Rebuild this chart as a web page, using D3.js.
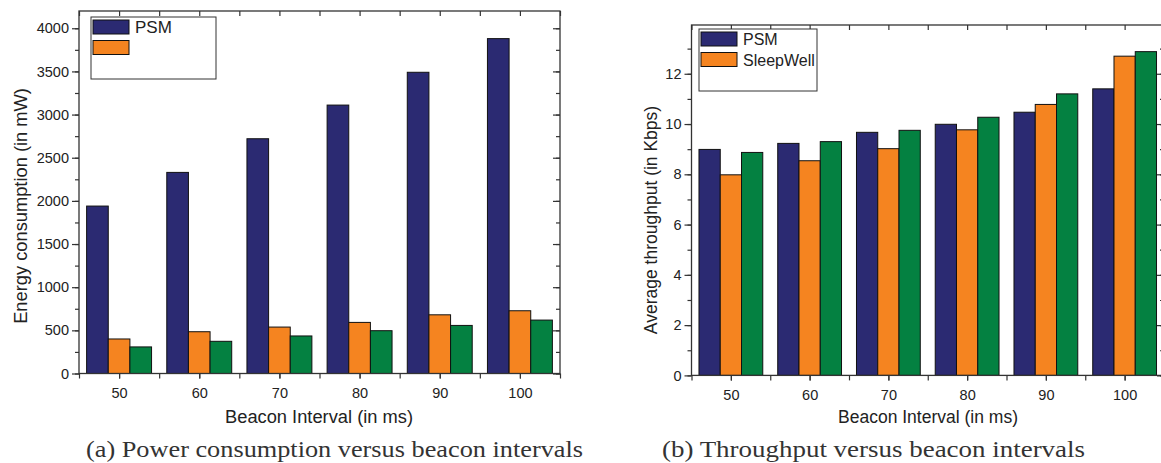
<!DOCTYPE html>
<html>
<head>
<meta charset="utf-8">
<script src="https://cdn.jsdelivr.net/npm/d3@7"></script>
<style>
body { margin: 0; background: #fff; }
text { font-family: "Liberation Sans", Arial, sans-serif; fill: #222; }
.cap { font-family: "Liberation Serif", "DejaVu Serif", serif; fill: #333; }
</style>
</head>
<body>
<svg width="1161" height="463"></svg>
<script>
// beacon intervals (ms)
var intervals = [50, 60, 70, 80, 90, 100];
var seriesNames = ['PSM', 'SleepWell', ''];
var colors = ['#2b2a72', '#f58420', '#048141'];

// (a) energy consumption, mW
var energyPSM = [1940, 2330, 2720, 3110, 3490, 3880];
var energySleepWell = [400, 484, 538, 592, 680, 727];
var energyThird = [308, 373, 435, 496, 557, 619];

// (b) average throughput, Kbps
var tputPSM = [8.99, 9.23, 9.67, 9.99, 10.47, 11.4];
var tputSleepWell = [7.98, 8.54, 9.02, 9.77, 10.78, 12.7];
var tputThird = [8.87, 9.3, 9.75, 10.27, 11.2, 12.88];

var energyTicks = [0, 500, 1000, 1500, 2000, 2500, 3000, 3500, 4000];
var tputTicks = [0, 2, 4, 6, 8, 10, 12];

var svg = d3.select('svg');

function panel(opt) {
	var g = svg.append('g');
	var x = d3.scaleLinear().domain([45, 105]).range([opt.left, opt.right]);
	var y = d3.scaleLinear().domain([0, opt.ymax]).range([opt.bottom, opt.top]);
	var bw = x(2.7) - x(0);

	// bars
	opt.series.forEach(function (vals, s) {
		g.selectAll('rect.s' + s)
			.data(vals)
			.enter().append('rect')
			.attr('x', function (d, i) { return x(intervals[i]) + (s - 1.5) * bw; })
			.attr('y', function (d) { return y(d); })
			.attr('width', bw)
			.attr('height', function (d) { return y(0) - y(d); })
			.attr('fill', colors[s])
			.attr('stroke', '#111')
			.attr('stroke-width', 1);
	});

	// frame
	g.append('rect')
		.attr('x', opt.left).attr('y', opt.top)
		.attr('width', opt.right - opt.left).attr('height', opt.bottom - opt.top)
		.attr('fill', 'none').attr('stroke', '#333').attr('stroke-width', 1.3);

	var minorX = d3.range(45, 106, 5);
	var minorY = d3.range(0, opt.ymax, opt.ystep / 2);

	// bottom axis
	var bx = g.append('g').attr('transform', 'translate(0,' + opt.bottom + ')')
		.call(d3.axisBottom(x).tickValues(minorX).tickSize(5).tickFormat(''));
	var bl = g.append('g').attr('transform', 'translate(0,' + opt.bottom + ')')
		.call(d3.axisBottom(x).tickValues(intervals).tickSize(5).tickPadding(9).tickFormat(d3.format('d')));
	// top axis (inward)
	var tx = g.append('g').attr('transform', 'translate(0,' + opt.top + ')')
		.call(d3.axisBottom(x).tickValues(minorX).tickSize(5).tickFormat(''));
	// left axis
	var ly = g.append('g').attr('transform', 'translate(' + opt.left + ',0)')
		.call(d3.axisLeft(y).tickValues(minorY).tickSize(4).tickFormat(''));
	var ll = g.append('g').attr('transform', 'translate(' + opt.left + ',0)')
		.call(d3.axisLeft(y).tickValues(opt.yticks).tickSize(7).tickPadding(3).tickFormat(d3.format('d')));
	// right axis (inward)
	var ry = g.append('g').attr('transform', 'translate(' + opt.right + ',0)')
		.call(d3.axisLeft(y).tickValues(minorY).tickSize(4).tickFormat(''));
	var rl = g.append('g').attr('transform', 'translate(' + opt.right + ',0)')
		.call(d3.axisLeft(y).tickValues(opt.yticks).tickSize(7).tickFormat(''));

	[bx, bl, tx, ly, ll, ry, rl].forEach(function (a) {
		a.select('.domain').remove();
		a.selectAll('line').attr('stroke', '#333').attr('stroke-width', 1.2);
		a.selectAll('text').attr('font-size', 14.5).attr('fill', '#222')
			.attr('font-family', '"Liberation Sans", Arial, sans-serif');
	});

	// axis titles
	g.append('text')
		.attr('x', opt.xlabelX).attr('y', 423)
		.attr('text-anchor', 'middle').attr('font-size', opt.fs[0])
		.text('Beacon Interval (in ms)');
	g.append('text')
		.attr('transform', 'translate(' + opt.ylabelX + ',' + opt.ylabelY + ') rotate(-90)')
		.attr('text-anchor', 'middle').attr('font-size', opt.fs[1])
		.text(opt.ylabel);

	// legend
	var lg = g.append('g');
	lg.append('rect')
		.attr('x', opt.legend[0]).attr('y', opt.legend[1])
		.attr('width', opt.legend[2]).attr('height', 62)
		.attr('fill', '#fff').attr('stroke', '#333').attr('stroke-width', 1);
	opt.legendNames.forEach(function (name, i) {
		lg.append('rect')
			.attr('x', opt.legend[0] + 2).attr('y', opt.legend[1] + 3 + i * 20.5)
			.attr('width', 36).attr('height', 14)
			.attr('fill', colors[i]).attr('stroke', '#111').attr('stroke-width', 1);
		lg.append('text')
			.attr('x', opt.legend[0] + 44).attr('y', opt.legend[1] + 16 + i * 20.5)
			.attr('font-size', opt.fs[2]).text(name);
	});

	// caption
	svg.append('text').attr('class', 'cap')
		.attr('x', opt.cap[0]).attr('y', 457)
		.attr('textLength', opt.cap[1]).attr('lengthAdjust', 'spacingAndGlyphs')
		.attr('font-size', 23).text(opt.caption);
}

panel({
	left: 79, right: 560, top: 11, bottom: 373.5,
	ymax: 4200, ystep: 500, yticks: energyTicks,
	series: [energyPSM, energySleepWell, energyThird],
	xlabelX: 319, fs: [18.3, 18.3, 17],
	ylabel: 'Energy consumption (in mW)', ylabelX: 27, ylabelY: 206,
	legend: [91, 17, 125], legendNames: ['PSM', ''],
	caption: '(a) Power consumption versus beacon intervals', cap: [86, 497]
});

panel({
	left: 691.5, right: 1164, top: 25, bottom: 375.4,
	ymax: 13.94, ystep: 2, yticks: tputTicks,
	series: [tputPSM, tputSleepWell, tputThird],
	xlabelX: 928, fs: [17.5, 17.5, 16],
	ylabel: 'Average throughput (in Kbps)', ylabelX: 657, ylabelY: 220,
	legend: [699, 29, 118], legendNames: ['PSM', 'SleepWell'],
	caption: '(b) Throughput versus beacon intervals', cap: [662, 423]
});
</script>
</body>
</html>
